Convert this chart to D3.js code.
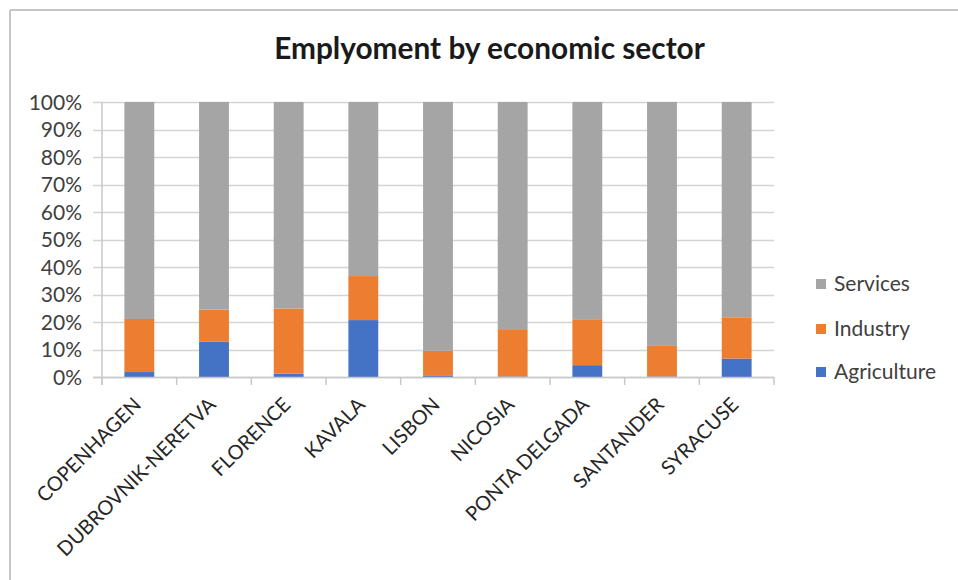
<!DOCTYPE html>
<html>
<head>
<meta charset="utf-8">
<script src="https://cdn.jsdelivr.net/npm/d3@7"></script>
<style>
  html, body { margin: 0; padding: 0; background: #fff; }
  svg { display: block; font-family: Lato, "Open Sans", sans-serif; }
</style>
</head>
<body>
<svg id="chart" width="958" height="580"></svg>
<script>
const categories = ["COPENHAGEN", "DUBROVNIK-NERETVA", "FLORENCE", "KAVALA", "LISBON", "NICOSIA", "PONTA DELGADA", "SANTANDER", "SYRACUSE"];
const agriculture = [1.8, 12.8, 1.2, 20.7, 0.6, 0.2, 4.3, 0.2, 6.7];
const industry    = [19.3, 11.7, 23.7, 16.0, 8.9, 17.2, 16.7, 11.1, 14.8];
const services    = [78.9, 75.5, 75.1, 63.3, 90.5, 82.6, 79.0, 88.7, 78.5];
const seriesNames = ["Agriculture", "Industry", "Services"];
const seriesColors = ["#4472C4", "#ED7D31", "#A5A5A5"];
const yTicks = [0, 0.1, 0.2, 0.3, 0.4, 0.5, 0.6, 0.7, 0.8, 0.9, 1.0];
const titleText = "Emplyoment by economic sector";

const svg = d3.select("#chart");
const W = 958, H = 580;
const plot = { left: 102, right: 774, top: 102, bottom: 377 };

// outer border (only top/left visible in reference)
svg.append("line").attr("x1", 10).attr("y1", 10).attr("x2", W + 5).attr("y2", 10)
  .attr("stroke", "#c6c6c6").attr("stroke-width", 2);
svg.append("line").attr("x1", 10).attr("y1", 10).attr("x2", 10).attr("y2", H + 5)
  .attr("stroke", "#c6c6c6").attr("stroke-width", 2);

// data table
const rows = categories.map((c, i) => ({
  cat: c,
  Agriculture: agriculture[i],
  Industry: industry[i],
  Services: services[i]
}));
rows.forEach(r => {
  const t = r.Agriculture + r.Industry + r.Services;
  seriesNames.forEach(s => r[s] = r[s] / t);
});
const stacked = d3.stack().keys(seriesNames)(rows);

const x = d3.scaleBand().domain(categories).range([plot.left, plot.right])
  .paddingInner(0.6).paddingOuter(0.3);
const y = d3.scaleLinear().domain([0, 1]).range([plot.bottom, plot.top]);

// gridlines
const grid = svg.append("g");
grid.selectAll("line").data(yTicks).join("line")
  .attr("x1", plot.left - 9).attr("x2", plot.right)
  .attr("y1", d => Math.round(y(d)) + 0.5).attr("y2", d => Math.round(y(d)) + 0.5)
  .attr("stroke", "#d4d4d4").attr("stroke-width", 1.5);

// y labels
const yLabelAxis = d3.axisLeft(y).tickValues(yTicks).tickFormat(d3.format(".0%"))
  .tickSize(0).tickPadding(0);
const gyl = svg.append("g").attr("transform", `translate(${plot.left - 20},0)`).call(yLabelAxis);
gyl.select(".domain").remove();
gyl.selectAll("text").attr("font-size", 21).attr("fill", "#404040")
  .attr("font-family", "Lato, sans-serif").attr("dy", "0.35em");

// bars
svg.append("g").selectAll("g").data(stacked).join("g")
  .attr("fill", (d, i) => seriesColors[i])
  .selectAll("rect").data(d => d).join("rect")
  .attr("x", d => x(d.data.cat))
  .attr("width", x.bandwidth())
  .attr("y", d => y(d[1]))
  .attr("height", d => y(d[0]) - y(d[1]));

// axis lines
svg.append("line").attr("x1", plot.left).attr("x2", plot.left)
  .attr("y1", plot.top).attr("y2", plot.bottom + 8)
  .attr("stroke", "#c8c8c8").attr("stroke-width", 1.5);
svg.append("line").attr("x1", plot.left - 9).attr("x2", plot.right)
  .attr("y1", plot.bottom + 0.5).attr("y2", plot.bottom + 0.5)
  .attr("stroke", "#c8c8c8").attr("stroke-width", 1.5);
// category boundary ticks
const step = x.step();
const bounds = d3.range(categories.length + 1).map(i => plot.left + i * step);
svg.append("g").selectAll("line").data(bounds).join("line")
  .attr("x1", d => d).attr("x2", d => d)
  .attr("y1", plot.bottom).attr("y2", plot.bottom + 8)
  .attr("stroke", "#c8c8c8").attr("stroke-width", 1.5);

// x labels
const xAxis = d3.axisBottom(x).tickSize(0).tickPadding(0);
const gx = svg.append("g").attr("transform", `translate(0,${plot.bottom})`).call(xAxis);
gx.select(".domain").remove();
gx.selectAll("text")
  .attr("font-size", 20).attr("fill", "#262626")
  .attr("font-family", "Lato, sans-serif")
  .attr("text-anchor", "end")
  .attr("y", 0).attr("dy", 0)
  .attr("transform", "translate(3,29) rotate(-45)");

// title
const title = svg.append("text").attr("x", 489.5).attr("y", 59)
  .attr("text-anchor", "middle").attr("font-weight", "bold")
  .attr("font-size", 22).attr("fill", "#1a1a1a").text(titleText);
const tw = title.node().getComputedTextLength();
title.attr("font-size", 22 * 431 / tw);

// legend
const legendItems = [
  { name: "Services", color: seriesColors[2], y: 284 },
  { name: "Industry", color: seriesColors[1], y: 329 },
  { name: "Agriculture", color: seriesColors[0], y: 372 }
];
const lg = svg.append("g").selectAll("g").data(legendItems).join("g")
  .attr("transform", d => `translate(816,${d.y})`);
lg.append("rect").attr("x", 0).attr("y", -5).attr("width", 10).attr("height", 10)
  .attr("fill", d => d.color);
lg.append("text").attr("x", 18).attr("y", 0).attr("dy", "0.35em")
  .attr("font-size", 21).attr("fill", "#404040").text(d => d.name);
</script>
</body>
</html>
